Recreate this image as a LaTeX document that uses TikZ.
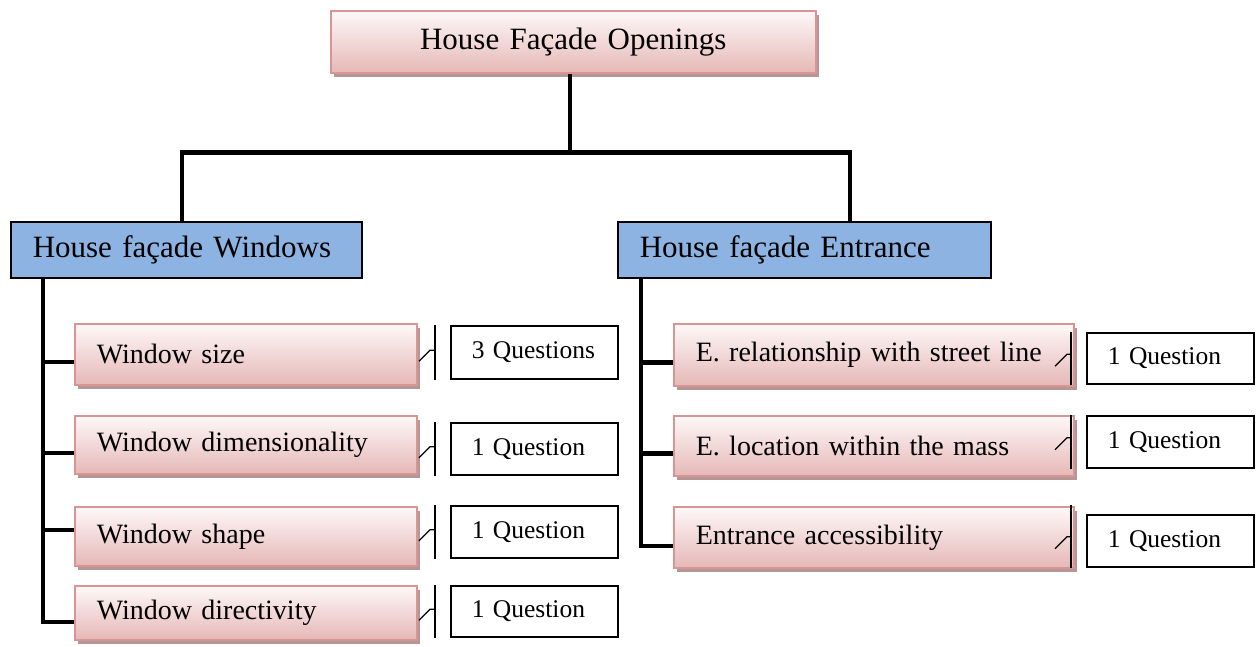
\documentclass[tikz,border=0pt]{standalone}
\usepackage{fontspec}
\setmainfont{Liberation Serif}
\usetikzlibrary{shadows,calc}

\definecolor{pinkline}{RGB}{217,149,148}
\definecolor{pinktop}{RGB}{254,248,248}
\definecolor{pinkbot}{RGB}{229,184,183}
\definecolor{pinkshadow}{RGB}{180,150,150}
\definecolor{groupblue}{RGB}{141,179,226}

\begin{document}
\begin{tikzpicture}[x=1pt, y=-1pt,
	topic/.style={draw=pinkline, line width=1.6pt, top color=pinktop, bottom color=pinkbot,
		general shadow={fill=pinkshadow, shadow xshift=3pt, shadow yshift=-4pt},
		inner xsep=22pt, inner ysep=0pt, align=left, anchor=north west,
		font=\fontsize{28}{32}\selectfont},
	group/.style={draw=black, line width=1.5pt, fill=groupblue, inner xsep=22pt, inner ysep=0pt,
		align=left, anchor=north west, minimum height=56pt, font=\fontsize{31}{36}\selectfont},
	count/.style={draw=black, line width=1.5pt, fill=white, inner xsep=21pt, inner ysep=0pt,
		text width=125pt, align=left, anchor=north west, font=\fontsize{25.5}{30}\selectfont},
	branch/.style={line width=4.5pt, line join=miter},
	bracket/.style={line width=1.3pt}]
	\useasboundingbox (0,0) rectangle (1259,646);
	%root
	\node[topic, align=center, text width=441pt, minimum height=62pt,
		font=\fontsize{31}{36}\selectfont] (root) at (330,10) {House Façade Openings};
	%groups
	\node[group, text width=307pt] (hfw) at (10,221) {House façade Windows};
	\node[group, text width=329pt] (hfe) at (617,221) {House façade Entrance};
	%window items
	\node[topic, text width=298pt, minimum height=61pt] (wsize) at (74,323) {Window size};
	\node[topic, text width=298pt, minimum height=58pt] (wdim) at (74,415) {Window dimensionality};
	\node[topic, text width=298pt, minimum height=59pt] (wshape) at (74,506) {Window shape};
	\node[topic, text width=298pt, minimum height=54pt] (wdir) at (74,585) {Window directivity};
	%entrance items
	\node[topic, text width=356pt, minimum height=62pt] (erel) at (673,323) {E. relationship with street line};
	\node[topic, text width=356pt, minimum height=60pt] (eloc) at (673,415) {E. location within the mass};
	\node[topic, text width=356pt, minimum height=61pt] (eacc) at (673,506) {Entrance accessibility};
	%question counts
	\node[count, minimum height=53pt] (qsize) at (450,325) {3 Questions};
	\node[count, minimum height=52pt] (qdim) at (450,422) {1 Question};
	\node[count, minimum height=52pt] (qshape) at (450,505) {1 Question};
	\node[count, minimum height=51pt] (qdir) at (450,585) {1 Question};
	\node[count, minimum height=51pt] (qrel) at (1086,332) {1 Question};
	\node[count, minimum height=52pt] (qloc) at (1086,415) {1 Question};
	\node[count, minimum height=52pt] (qacc) at (1086,514) {1 Question};
	%tree lines
	\draw[branch] ([xshift=-3.5pt]root.south) -- ++(0,79) coordinate (fork);
	\draw[branch] ([xshift=172pt]hfw.north west) |- (fork) -| ([xshift=233pt]hfe.north west);
	\draw[branch] ([xshift=33pt]hfw.south west) |- ($(wdir.west)+(0,9)$);
	\foreach \n/\d in {wsize/7.5, wdim/8, wshape/-6.5}
	\draw[branch] ($(\n.west)+(0,\d)$) -- ++(-31,0);
	\draw[branch] ([xshift=24pt]hfe.south west) |- ($(eacc.west)+(0,8.5)$);
	\foreach \n in {erel, eloc}
	\draw[branch] ($(\n.west)+(0,7.5)$) -- ++(-32,0);
	%brackets
	\foreach \q in {qsize, qdim, qshape, qdir}
	{
		\draw[bracket] ($(\q.north west)+(-15,0)$) -- ($(\q.south west)+(-15,0)$);
		\draw[bracket] ($(\q.west)+(-31,9)$) -- ++(11,-11) -- ++(5,0);
	}
	\draw[bracket] ($(qrel.north west)+(-15,0)$) -- ($(qrel.south west)+(-15,0)$);
	\draw[bracket] ($(qloc.north west)+(-15,0)$) -- ($(qloc.south west)+(-15,0)$);
	\draw[bracket] ($(qacc.north west)+(-15,-9)$) -- ($(qacc.south west)+(-15,0)$);
	\foreach \q in {qrel, qloc, qacc}
	\draw[bracket] ($(\q.west)+(-31,8)$) -- ++(12,-12) -- ++(4,0);
\end{tikzpicture}
\end{document}
